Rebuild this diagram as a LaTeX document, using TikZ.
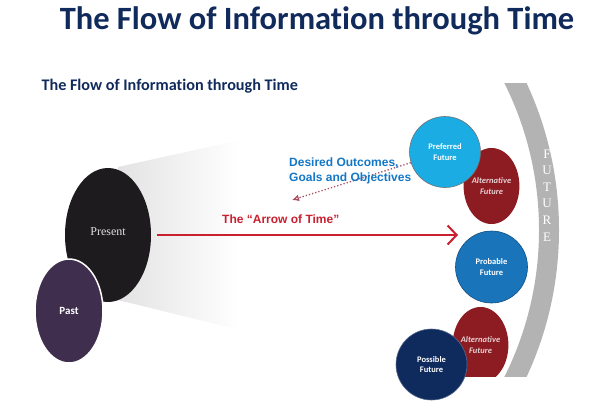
\documentclass[tikz,border=0pt]{standalone}
\usepackage{fontspec}
\setmainfont{Carlito}[Ligatures=NoCommon]
\newfontfamily\arialfont{Liberation Sans}
\newfontfamily\romanfont{Liberation Serif}
\usetikzlibrary{positioning,shapes.geometric,arrows.meta}

\definecolor{titleblue}{HTML}{112A5C}
\definecolor{presentblack}{HTML}{1E1B1E}
\definecolor{pastpurple}{HTML}{3F2E4D}
\definecolor{preferredblue}{HTML}{1AACE3}
\definecolor{probableblue}{HTML}{1A74BA}
\definecolor{possiblenavy}{HTML}{0F2A5C}
\definecolor{altred}{HTML}{8C1B22}
\definecolor{arrowred}{HTML}{C8202F}
\definecolor{goalblue}{HTML}{1377C6}
\definecolor{dotred}{HTML}{A8505F}
\definecolor{bandgray}{HTML}{B3B3B3}

\begin{document}
\begin{tikzpicture}[
    x=1pt, y=-1pt,
    blob/.style={
        ellipse,
        inner sep=0pt,
        align=center,
        text=white,
        font=\bfseries\fontsize{8.5}{10.5}\selectfont
    },
    futurecircle/.style={
        blob,
        circle,
        draw=black!55,
        line width=0.6pt
    },
    altfuture/.style={
        blob,
        fill=altred,
        minimum width=49pt,
        minimum height=76pt,
        text=altred!20!white,
        font=\bfseries\itshape\fontsize{8.5}{10.5}\selectfont
    },
    letter/.style={
        inner sep=0pt,
        text=white,
        font=\romanfont\fontsize{13}{13}\selectfont
    }
]

\useasboundingbox (0,0) rectangle (599,408);

% headings
\node[text=titleblue, font=\bfseries\fontsize{32.5}{38}\selectfont] (title) at (317,21) {The Flow of Information through Time};
\node[anchor=west, text=titleblue, font=\bfseries\fontsize{16.2}{19}\selectfont] (subtitle) at (38,86) {The Flow of Information through Time};

% cone of the present
\shade[left color=black!11, right color=white] (118,167) -- (240,140) -- (240,330) -- (118,300) -- cycle;

\node[ellipse, fill=presentblack, minimum width=86pt, minimum height=134pt, inner sep=0pt,
      text=black!12, font=\romanfont\fontsize{12}{14}\selectfont] (present) at (108,235) {\raisebox{6pt}{Present}};
\node[blob, fill=pastpurple, draw=white, line width=1.5pt, minimum width=68pt, minimum height=104pt,
      font=\bfseries\fontsize{11}{13}\selectfont] (past) at (69,311) {Past};

% arrow of time
\coordinate (now) at (157,235);
\coordinate (ahead) at (458,235);
\draw[arrowred, line width=2pt, -{Straight Barb[length=9pt, width=19pt]}] (now) -- (ahead);
\node[anchor=base west, inner sep=0pt, text=arrowred, font=\arialfont\bfseries\fontsize{12}{14}\selectfont] (arrowlabel) at (222,223) {The “Arrow of Time”};

% future band
\begin{scope}
    \clip (440,83) rectangle (599,376);
    \draw[bandgray, line width=20pt] (211,230) circle[radius=338pt];
\end{scope}
\foreach \ch [count=\i] in {F,U,T,U,R,E}
    \node[letter] (future\i) at (547,137.4+16.6*\i) {\ch};

% futures
\node[altfuture] (alt1) at (491.5,186) {Alternative\\Future};
\node[futurecircle, fill=preferredblue, minimum size=71pt] (preferred) at (445,152) {Preferred\\Future};
\node[futurecircle, fill=probableblue, draw=probableblue!70!black, minimum size=72pt] (probable) at (491.5,267) {Probable\\Future};
\begin{scope}
    \clip (400,300) rectangle (520,376);
    \node[altfuture] (alt2) at (480.5,345) {Alternative\\Future};
\end{scope}
\node[futurecircle, fill=possiblenavy, draw=possiblenavy!70!white, minimum size=71pt] (possible) at (431.5,364.5) {Possible\\Future};

% goals
\coordinate (goal) at (292,200);
\draw[dotred, dotted, line width=1.3pt, -{Latex[open, length=7pt, width=7pt]}] (preferred) -- (goal);
\node[anchor=west, align=left, inner sep=0pt, text=goalblue, font=\arialfont\bfseries\fontsize{12}{14.5}\selectfont] (goals) at (289,171) {Desired Outcomes,\\Goals and Objectives};

\end{tikzpicture}
\end{document}
